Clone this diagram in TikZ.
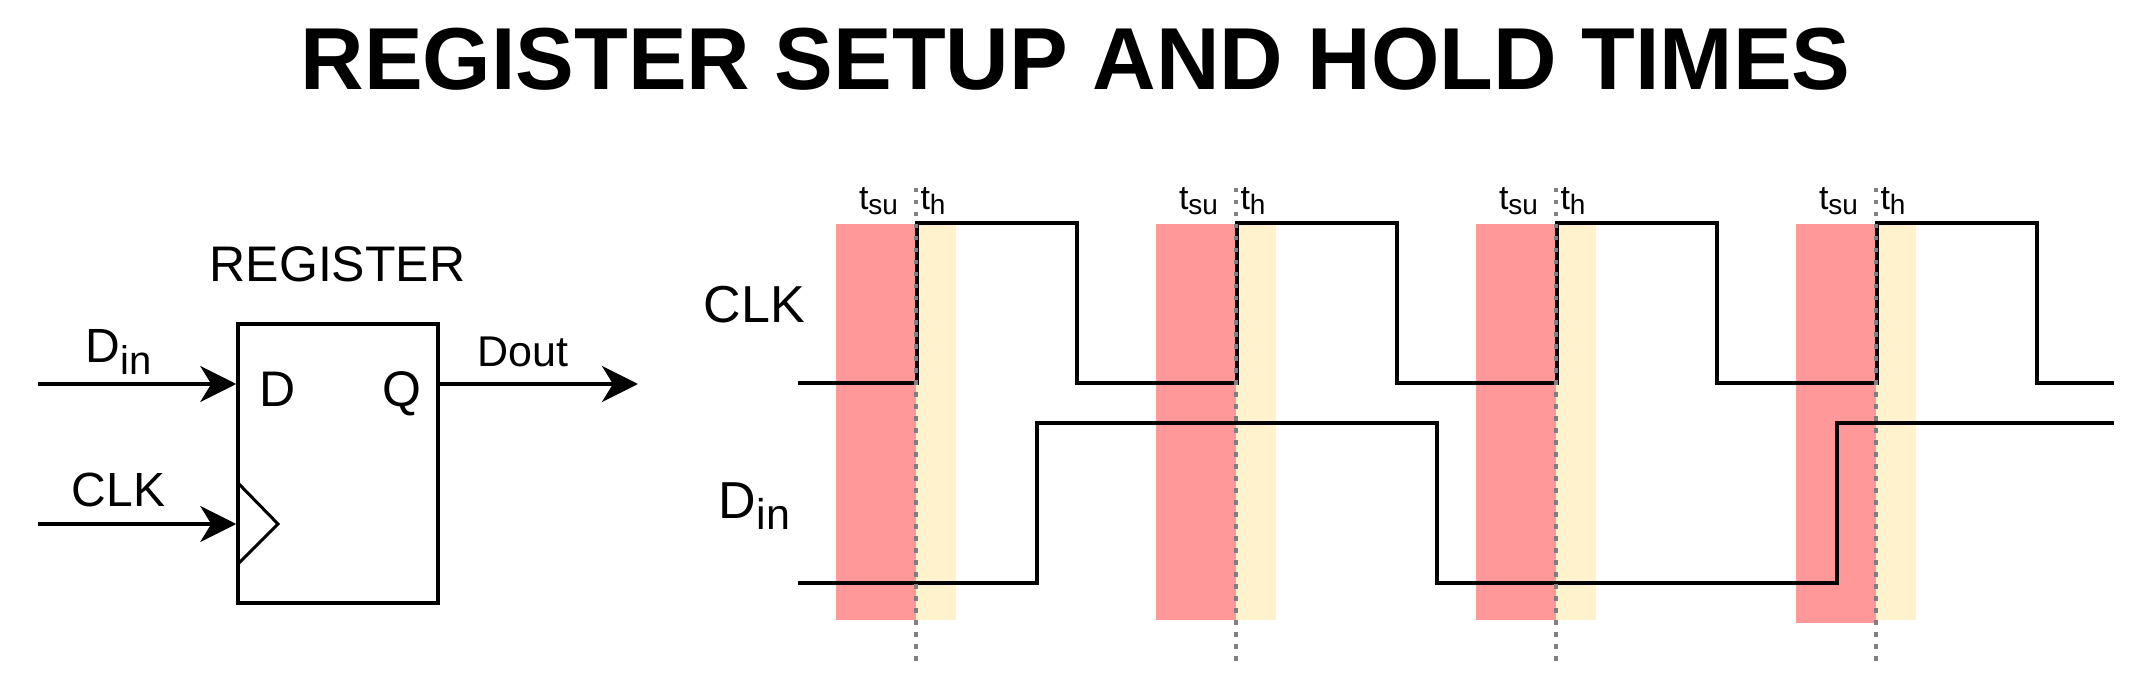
\documentclass[tikz,border=0pt]{standalone}
\usepackage{fontspec}
\setmainfont{Liberation Sans}
\usetikzlibrary{arrows.meta}
\definecolor{redband}{HTML}{FF9999}
\definecolor{yellowband}{HTML}{FFF2CC}
\definecolor{dotgray}{HTML}{808080}
\tikzset{
  lbl/.style={inner sep=0pt, anchor=base, font=\fontsize{#1}{#1}\selectfont},
  arr/.style={line width=4pt, -{Stealth[length=36pt,width=36pt,inset=11pt]}},
  wave/.style={line width=4.5pt, line join=miter},
  guide/.style={dotgray, line width=3.5pt, dash pattern=on 4.5pt off 7.5pt},
}
\newcommand{\sig}[4]{#1\raisebox{-#4pt}{\fontsize{#3}{#3}\selectfont #2}}
\begin{document}
\begin{tikzpicture}[x=1pt,y=-1pt]
\useasboundingbox[fill=white] (0,0) rectangle (2136,676);
% title
\node[lbl=88, font=\fontsize{88}{88}\selectfont\bfseries] (title) at (1075.5,90) {REGISTER SETUP AND HOLD TIMES};
% register
\node[lbl=50] (reglbl) at (337.5,282) {REGISTER};
\node[draw, line width=3.5pt, minimum width=200pt, minimum height=279pt, inner sep=0pt] (reg) at (338,463.5) {};
\node[lbl=50] (dport) at (277.5,406) {D};
\node[lbl=50] (qport) at (401.5,406) {Q};
\draw[line width=3pt, line join=miter] (238,483) -- (278,524) -- (238,564);
\coordinate (dinstart) at (38,384);
\coordinate (clkstart) at (38,524);
\coordinate (doutend) at (638,384);
\draw[arr] (dinstart) -- (dinstart -| reg.west);
\draw[arr] (clkstart) -- (clkstart -| reg.west);
\draw[arr] (dinstart -| reg.east) -- (doutend);
\node[lbl=48] (dinlbl) at (118.5,362) {\sig{D}{in}{40}{12}};
\node[lbl=48] (clklbl) at (118.5,506) {CLK};
\node[lbl=43] (doutlbl) at (523,366) {Dout};
% timing labels
\node[lbl=52] (clkw) at (754.5,323) {CLK};
\node[lbl=52] (dinw) at (754.5,518) {\sig{D}{in}{43}{11}};
% bands
\foreach \e/\b in {916/620,1236/620,1556/620,1876/623} {
  \fill[redband] (\e-80,224) rectangle (\e,\b);
  \fill[yellowband] (\e,224) rectangle (\e+40,620);
}
% waveforms
\draw[wave] (798,383) -- (917,383) -- (917,223) -- (1077,223) -- (1077,383)
  -- (1237,383) -- (1237,223) -- (1397,223) -- (1397,383)
  -- (1557,383) -- (1557,223) -- (1717,223) -- (1717,383)
  -- (1877,383) -- (1877,223) -- (2037,223) -- (2037,383) -- (2114,383);
\draw[wave] (798,583) -- (1037,583) -- (1037,423) -- (1437,423) -- (1437,583)
  -- (1837,583) -- (1837,423) -- (2114,423);
% guides and labels
\foreach \e in {916,1236,1556,1876} {
  \draw[guide] (\e,188) -- (\e,664);
  \node[lbl=34] at (\e-37.5,210) {\sig{t}{su}{28}{5}};
  \node[lbl=34] at (\e+17,210) {\sig{t}{h}{28}{5}};
}
\end{tikzpicture}
\end{document}
